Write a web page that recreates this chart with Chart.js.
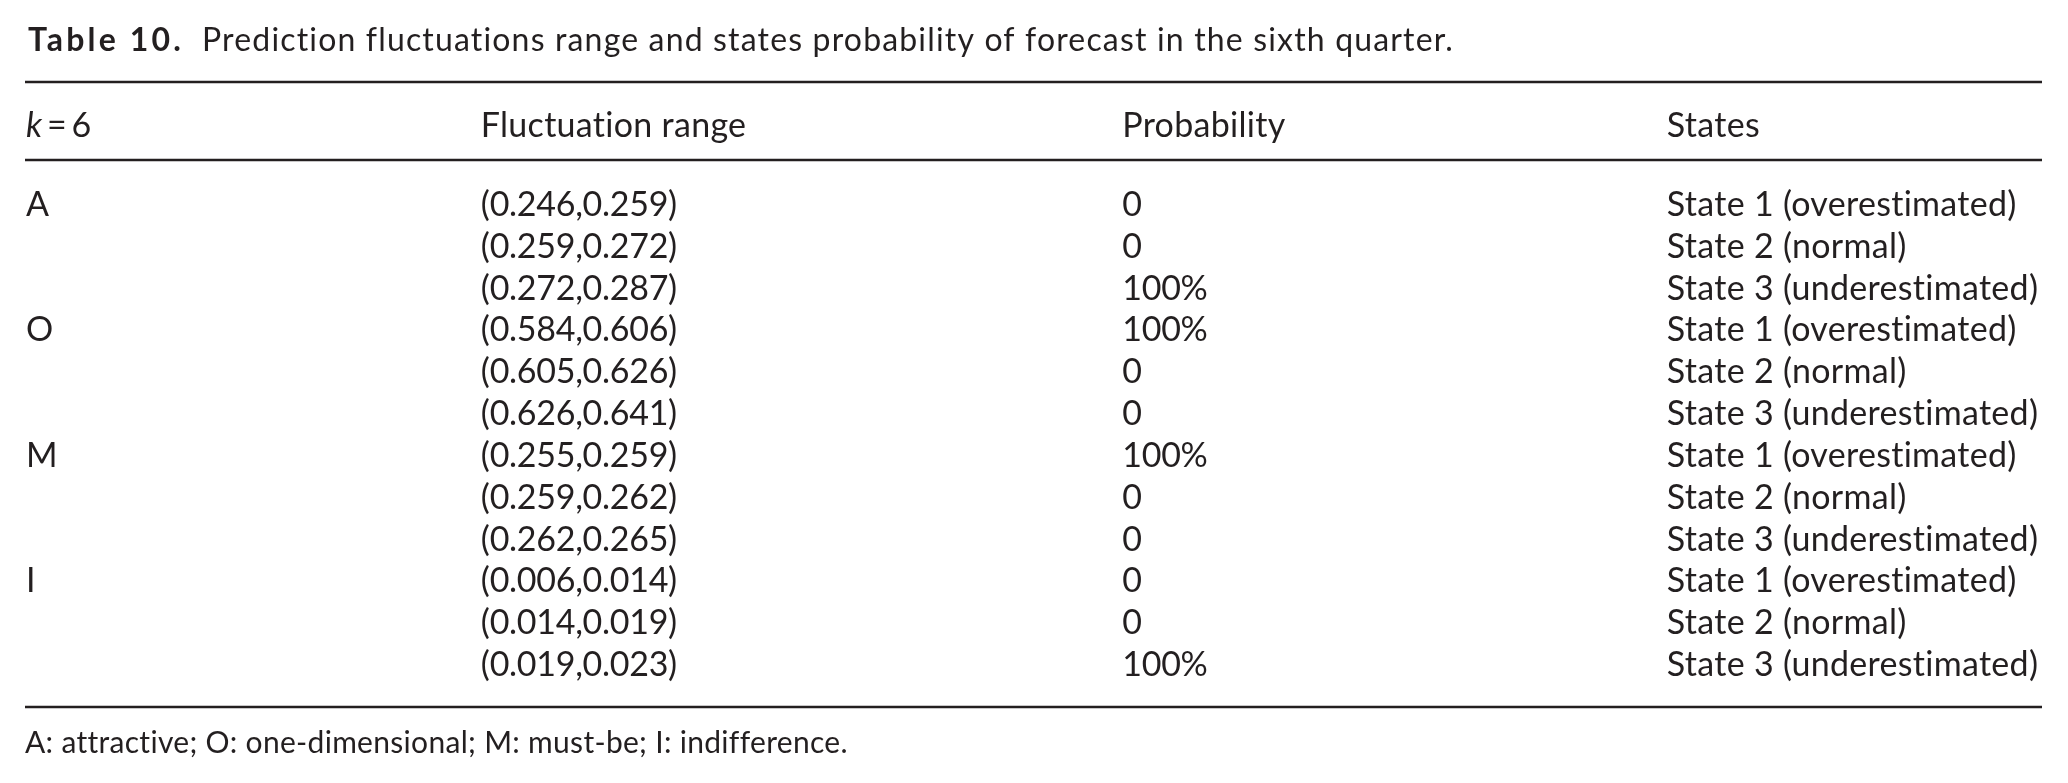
<!DOCTYPE html>
<html>
<head>
<meta charset="utf-8">
<script src="https://cdn.jsdelivr.net/npm/chart.js@4.4.0/dist/chart.umd.min.js"></script>
<style>
  html, body { margin: 0; background: #fff; }
  canvas { display: block; }
</style>
</head>
<body>
<canvas id="tbl" width="2068" height="783"></canvas>
<script>
// table content
const tableNo = 'Table 10.';
const caption = 'Prediction fluctuations range and states probability of forecast in the sixth quarter.';
const headers = ['Fluctuation range', 'Probability', 'States'];
const groups = ['A', 'O', 'M', 'I'];
const lows  = [0.246, 0.259, 0.272, 0.584, 0.605, 0.626, 0.255, 0.259, 0.262, 0.006, 0.014, 0.019];
const highs = [0.259, 0.272, 0.287, 0.606, 0.626, 0.641, 0.259, 0.262, 0.265, 0.014, 0.019, 0.023];
const probs = [0, 0, 100, 100, 0, 0, 100, 0, 0, 0, 0, 100];
const states = [
  'State 1 (overestimated)', 'State 2 (normal)', 'State 3 (underestimated)',
  'State 1 (overestimated)', 'State 2 (normal)', 'State 3 (underestimated)',
  'State 1 (overestimated)', 'State 2 (normal)', 'State 3 (underestimated)',
  'State 1 (overestimated)', 'State 2 (normal)', 'State 3 (underestimated)'
];
const note = 'A: attractive; O: one-dimensional; M: must-be; I: indifference.';

const ink = '#231f20';
const FAM = 'Lato, "Open Sans", sans-serif';
const colAt = [0, 0.226, 0.544, 0.814];   // column starts, x-scale units
const headRow = -1.89, midRule = -1.34;   // y-scale units

function spacing(ctx, font, str, target) {
  ctx.font = font; ctx.letterSpacing = '0px';
  const w = ctx.measureText(str).width;
  return Math.max(-2, (target - w) / str.length);
}
function put(ctx, str, x, y, font, sp) {
  ctx.font = font;
  ctx.letterSpacing = sp.toFixed(2) + 'px';
  ctx.fillText(str, x, y);
  const w = ctx.measureText(str).width;
  ctx.letterSpacing = '0px';
  return w;
}
function rule(ctx, x0, x1, y) {
  ctx.beginPath();
  ctx.moveTo(x0, y); ctx.lineTo(x1, y);
  ctx.stroke();
}

const tablePlugin = {
  id: 'tablePlugin',
  afterDraw(chart) {
    const ctx = chart.ctx, x = chart.scales.x, y = chart.scales.y, a = chart.chartArea;
    const body = '34px ' + FAM, small = '30px ' + FAM;
    const sp = spacing(ctx, body, 'State 3 (underestimated)', 372);
    const spNum = spacing(ctx, body, '(0.246,0.259)', 196);
    ctx.save();
    ctx.fillStyle = ink; ctx.strokeStyle = ink; ctx.lineWidth = 2.5;
    ctx.textBaseline = 'alphabetic'; ctx.textAlign = 'left';

    // caption
    const tb = 'bold 32px ' + FAM, tr = '32px ' + FAM;
    const wb = put(ctx, tableNo, a.left + 3, 51, tb, spacing(ctx, tb, tableNo, 156));
    put(ctx, caption, a.left + 3 + wb + 18, 51, tr, spacing(ctx, tr, caption, 1253));

    // rules
    rule(ctx, a.left, a.right, a.top);
    rule(ctx, a.left, a.right, y.getPixelForValue(midRule));
    rule(ctx, a.left, a.right, a.bottom);

    // header row
    const hy = y.getPixelForValue(headRow);
    let hx = x.getPixelForValue(colAt[0]) + 1;
    hx += put(ctx, 'k', hx, hy, 'italic 34px ' + FAM, sp);
    put(ctx, '\u2009=\u20096', hx, hy, body, sp);
    headers.forEach((h, i) => put(ctx, h, x.getPixelForValue(colAt[i + 1]), hy, body, sp));

    // body rows
    lows.forEach((lo, i) => {
      const ry = y.getPixelForValue(i);
      if (i % 3 === 0) put(ctx, groups[i / 3], x.getPixelForValue(colAt[0]) + 1, ry, body, sp);
      put(ctx, '(' + lo.toFixed(3) + ',' + highs[i].toFixed(3) + ')', x.getPixelForValue(colAt[1]), ry, body, spNum);
      put(ctx, probs[i] === 0 ? '0' : probs[i] + '%', x.getPixelForValue(colAt[2]), ry, body, spNum);
      put(ctx, states[i], x.getPixelForValue(colAt[3]), ry, body, sp);
    });

    // footnote
    put(ctx, note, a.left, 753, small, spacing(ctx, small, note, 821));
    ctx.restore();
  }
};

new Chart(document.getElementById('tbl'), {
  type: 'scatter',
  data: { datasets: [{ data: lows.map((v, i) => ({ x: colAt[1], y: i })), pointRadius: 0 }] },
  options: {
    responsive: false,
    devicePixelRatio: 1,
    animation: false,
    layout: { padding: { top: 82, bottom: 76, left: 25, right: 26 } },
    plugins: { legend: { display: false }, tooltip: { enabled: false } },
    scales: {
      x: { type: 'linear', min: 0, max: 1, display: false },
      y: { type: 'linear', min: -3.204, max: 11.74, reverse: true, display: false }
    }
  },
  plugins: [tablePlugin]
});
</script>
</body>
</html>
